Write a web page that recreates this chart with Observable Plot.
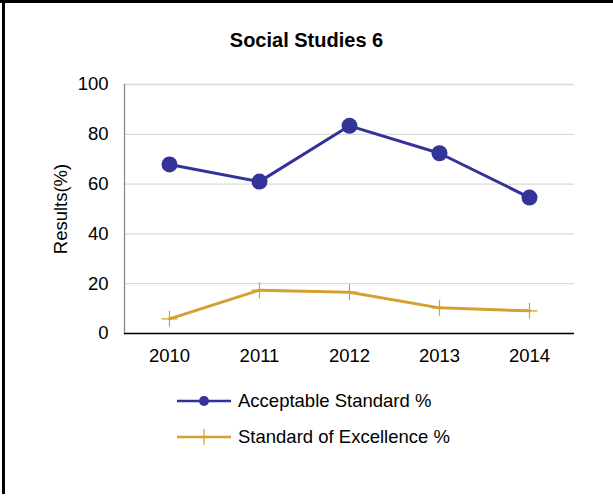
<!DOCTYPE html>
<html>
<head>
<meta charset="utf-8">
<script src="https://cdn.jsdelivr.net/npm/d3@7"></script>
<script src="https://cdn.jsdelivr.net/npm/@observablehq/plot@0.6"></script>
<style>
  html, body { margin: 0; padding: 0; background: #fff; }
  #wrap { position: relative; width: 613px; height: 497px; overflow: hidden; font-family: "Liberation Sans", Arial, sans-serif; color: #000; }
  #bordTop { position: absolute; left: 0; top: 0; width: 613px; height: 3px; background: #000; }
  #bordLeft { position: absolute; left: 2px; top: 0; width: 3px; height: 494px; background: #000; }
  #title { position: absolute; left: 0; width: 613px; top: 29px; text-align: center; font-weight: bold; font-size: 20px; }
  #chart { position: absolute; left: 0; top: 70px; }
  .leg { position: absolute; left: 176px; display: flex; align-items: center; font-size: 18.5px; }
  .leg svg { margin-right: 6px; }
</style>
</head>
<body>
<div id="wrap">
  <div id="bordTop"></div>
  <div id="bordLeft"></div>
  <div id="title">Social Studies 6</div>
  <div id="chart"></div>
  <div class="leg" id="leg1" style="top:390px"></div>
  <div class="leg" id="leg2" style="top:426px"></div>
</div>
<script>
const years = ["2010", "2011", "2012", "2013", "2014"];
const acceptable = [67.9, 61.0, 83.4, 72.4, 54.6];
const excellence = [5.9, 17.4, 16.6, 10.3, 9.1];
const yTicks = [0, 20, 40, 60, 80, 100];
const seriesNames = ["Acceptable Standard %", "Standard of Excellence %"];
const colors = ["#333399", "#D4A02E"];

const accData = years.map((y, i) => ({year: y, value: acceptable[i]}));
const excData = years.map((y, i) => ({year: y, value: excellence[i]}));

const plusSymbol = {
  draw(context, size) {
    const r = Math.sqrt(size / Math.PI);
    context.moveTo(-r, 0); context.lineTo(r, 0);
    context.moveTo(0, -r); context.lineTo(0, r);
  }
};

const chart = Plot.plot({
  width: 613,
  height: 310,
  marginLeft: 124,
  marginRight: 39,
  marginTop: 14,
  marginBottom: 47,
  style: {fontFamily: "'Liberation Sans', Arial, sans-serif", fontSize: "18.5px", color: "#000", background: "transparent"},
  x: {type: "point", domain: years, padding: 0.5, label: null},
  y: {domain: [0, 100], label: null},
  marks: [
    Plot.gridY(yTicks, {stroke: "#d9d9d9", strokeOpacity: 1, strokeWidth: 1.3}),
    Plot.axisY({ticks: yTicks, tickSize: 0, tickPadding: 16, label: null}),
    Plot.axisX({tickSize: 0, tickPadding: 15, label: null}),
    Plot.frame({anchor: "left", stroke: "#8c8c8c", strokeWidth: 1.3}),
    Plot.ruleY([0], {stroke: "#000", strokeWidth: 1.3}),
    Plot.line(excData, {x: "year", y: "value", stroke: colors[1], strokeWidth: 3}),
    Plot.dot(excData, {x: "year", y: "value", symbol: plusSymbol, r: 8, stroke: colors[1], strokeWidth: 1.2, fill: "none"}),
    Plot.line(accData, {x: "year", y: "value", stroke: colors[0], strokeWidth: 3}),
    Plot.dot(accData, {x: "year", y: "value", r: 8, fill: colors[0], stroke: "none"})
  ]
});
document.getElementById("chart").appendChild(chart);

// Y axis title
const svg = d3.select(chart);
svg.append("text")
  .attr("transform", "translate(67,139) rotate(-90)")
  .attr("text-anchor", "middle")
  .attr("font-size", "18.5px")
  .attr("fill", "#000")
  .text("Results(%)");

// Legend
function legend(id, i, marker) {
  const el = d3.select("#" + id);
  const s = el.append("svg").attr("width", 56).attr("height", 20);
  s.append("line").attr("x1", 1).attr("x2", 55).attr("y1", 10).attr("y2", 10)
    .attr("stroke", colors[i]).attr("stroke-width", 2.5);
  if (marker === "dot") {
    s.append("circle").attr("cx", 28).attr("cy", 10).attr("r", 5).attr("fill", colors[i]);
  } else {
    s.append("line").attr("x1", 28).attr("x2", 28).attr("y1", 2).attr("y2", 18)
      .attr("stroke", colors[i]).attr("stroke-width", 1.2);
  }
  el.append("span").text(seriesNames[i]);
}
legend("leg1", 0, "dot");
legend("leg2", 1, "plus");
</script>
</body>
</html>
